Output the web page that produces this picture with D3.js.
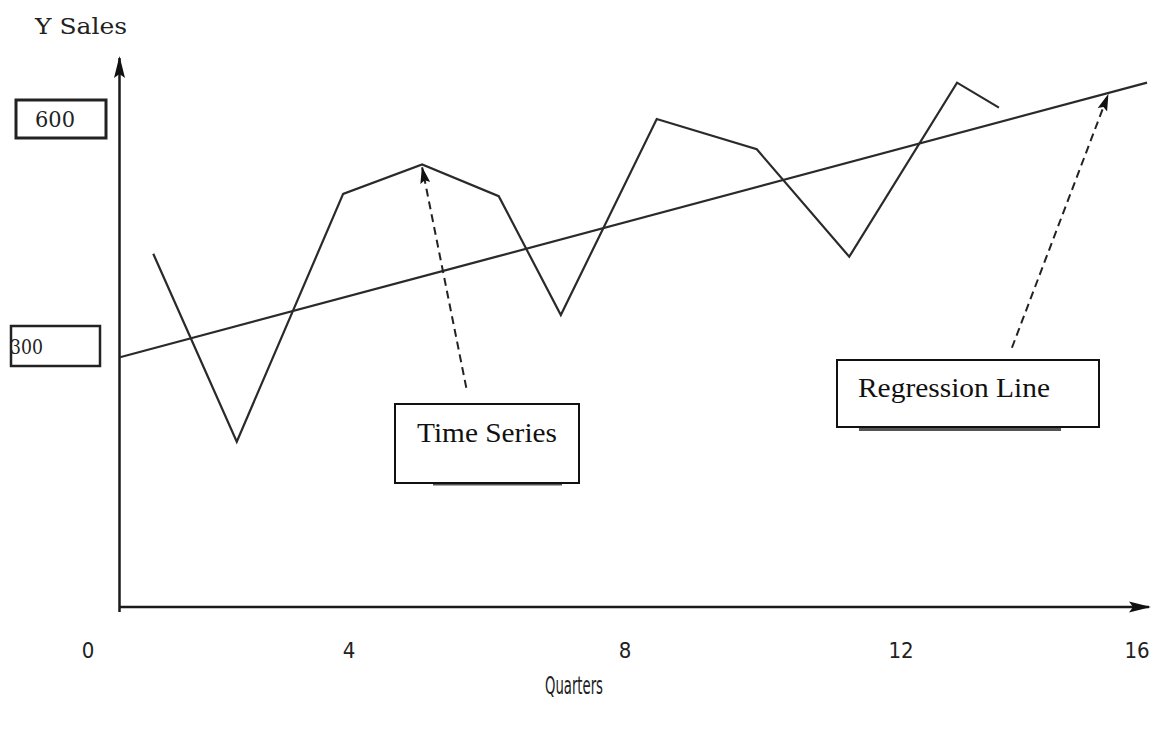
<!DOCTYPE html>
<html>
<head>
<meta charset="utf-8">
<script src="https://cdn.jsdelivr.net/npm/d3@7"></script>
<style>
  html, body { margin: 0; padding: 0; background: #fff; }
  svg { display: block; }
</style>
</head>
<body>
<svg id="chart" width="1151" height="729"></svg>
<script>
// ---- data ----
const xTicks = [0, 4, 8, 12, 16];
const yTickLabels = [600, 300];
const quarters = [1.0, 2.28, 3.91, 5.06, 6.17, 7.07, 8.46, 9.91, 11.25, 12.95, 13.66];
const sales    = [422, 190, 501, 540, 498, 341, 600, 560, 418, 648, 615];
const regressionQuarters = [0.49, 16.17];
const regressionSales    = [287, 648];
const tsArrowTail  = [5.70, 252];   // quarter, sales
const regArrowTail = [13.88, 298];
const regArrowTip  = [15.51, 632];
const xTitle = "Quarters";
const yTitle = "Y Sales";

// ---- scales (hand-drawn diagram: piecewise linear) ----
const x = d3.scaleLinear().domain([0, 4, 8, 12, 16]).range([88, 349, 625, 901, 1137]);
const y = d3.scaleLinear().domain([0, 300, 600]).range([607, 346, 119]);

const svg = d3.select("#chart");
const ink = "#2a2a2a";

// arrowhead markers
const defs = svg.append("defs");
defs.append("marker").attr("id", "ah").attr("viewBox", "0 0 22 12")
  .attr("refX", 20).attr("refY", 6).attr("markerWidth", 22).attr("markerHeight", 12)
  .attr("markerUnits", "userSpaceOnUse").attr("orient", "auto")
  .append("path").attr("d", "M0,0.5 L22,6 L0,11.5 L4,6 Z").attr("fill", "#111");
defs.append("marker").attr("id", "ahs").attr("viewBox", "0 0 17 11")
  .attr("refX", 16).attr("refY", 5.5).attr("markerWidth", 17).attr("markerHeight", 11)
  .attr("markerUnits", "userSpaceOnUse").attr("orient", "auto")
  .append("path").attr("d", "M0,0.5 L17,5.5 L0,10.5 L3,5.5 Z").attr("fill", "#111");

// ---- axes ----
const x0 = 119.5, yAxisBottom = 612, yAxisTop = 58;
const xAxisY = y(0), xAxisEnd = 1149;
svg.append("line").attr("x1", x0).attr("y1", yAxisBottom).attr("x2", x0).attr("y2", yAxisTop)
  .attr("stroke", "#1a1a1a").attr("stroke-width", 2.5).attr("marker-end", "url(#ah)");
svg.append("line").attr("x1", x0).attr("y1", xAxisY).attr("x2", xAxisEnd).attr("y2", xAxisY)
  .attr("stroke", "#1a1a1a").attr("stroke-width", 2.5).attr("marker-end", "url(#ah)");

// x tick labels
const tickFont = "'Liberation Sans Narrow', 'DejaVu Sans Condensed', 'Liberation Sans', sans-serif";
svg.append("g").selectAll("text").data(xTicks).join("text")
  .attr("x", d => x(d)).attr("y", 658)
  .attr("text-anchor", "middle")
  .attr("font-family", tickFont).attr("font-size", 22).attr("fill", "#222")
  .text(d => d);

svg.append("text").attr("x", 574).attr("y", 694).attr("text-anchor", "middle")
  .attr("font-family", tickFont).attr("font-size", 24).attr("fill", "#222")
  .attr("textLength", 58).attr("lengthAdjust", "spacingAndGlyphs")
  .text(xTitle);

// y title
svg.append("text").attr("x", 35).attr("y", 34)
  .attr("font-family", "'DejaVu Serif', serif").attr("font-size", 23).attr("fill", "#222")
  .attr("textLength", 92).attr("lengthAdjust", "spacingAndGlyphs")
  .text(yTitle);

// y value boxes
const yBoxes = [
  { v: yTickLabels[0], bx: 16, bw: 90, bh: 38, tx: 35, tl: 40, fs: 22, sw: 3 },
  { v: yTickLabels[1], bx: 11, bw: 89, bh: 40, tx: 10, tl: 33, fs: 20, sw: 2.5 }
];
yBoxes.forEach(b => {
  const cy = y(b.v);
  svg.append("rect").attr("x", b.bx).attr("y", cy - b.bh / 2).attr("width", b.bw).attr("height", b.bh)
    .attr("fill", "none").attr("stroke", "#222").attr("stroke-width", b.sw);
  svg.append("text").attr("x", b.tx).attr("y", cy + 8)
    .attr("font-family", "'DejaVu Serif', serif").attr("font-size", b.fs).attr("fill", "#222")
    .attr("textLength", b.tl).attr("lengthAdjust", "spacingAndGlyphs")
    .text(b.v);
});

// ---- regression line ----
const reg = regressionQuarters.map((q, i) => [q, regressionSales[i]]);
svg.append("path").datum(reg)
  .attr("d", d3.line().x(d => x(d[0])).y(d => y(d[1])))
  .attr("fill", "none").attr("stroke", ink).attr("stroke-width", 2.2);

// ---- time series ----
const ts = quarters.map((q, i) => [q, sales[i]]);
svg.append("path").datum(ts)
  .attr("d", d3.line().x(d => x(d[0])).y(d => y(d[1])))
  .attr("fill", "none").attr("stroke", ink).attr("stroke-width", 2.2)
  .attr("stroke-linejoin", "miter");

// ---- dashed annotation arrows ----
const peak = ts[3];
svg.append("line")
  .attr("x1", x(tsArrowTail[0])).attr("y1", y(tsArrowTail[1]))
  .attr("x2", x(peak[0])).attr("y2", y(peak[1]) + 3)
  .attr("stroke", "#222").attr("stroke-width", 2).attr("stroke-dasharray", "8,5")
  .attr("marker-end", "url(#ahs)");
svg.append("line")
  .attr("x1", x(regArrowTail[0])).attr("y1", y(regArrowTail[1]))
  .attr("x2", x(regArrowTip[0])).attr("y2", y(regArrowTip[1]))
  .attr("stroke", "#222").attr("stroke-width", 2).attr("stroke-dasharray", "8,5")
  .attr("marker-end", "url(#ahs)");

// ---- label boxes ----
const labelBoxes = [
  { t: "Time Series", bx: 395, by: 404, bw: 184, bh: 79, tx: 417, ty: 442, tl: 140, sx1: 433, sx2: 562, sy: 484.5, sw: 2 },
  { t: "Regression Line", bx: 837, by: 360, bw: 262, bh: 67, tx: 858, ty: 397, tl: 192, sx1: 859, sx2: 1061, sy: 429.5, sw: 3 }
];
labelBoxes.forEach(b => {
  svg.append("line").attr("x1", b.sx1).attr("x2", b.sx2).attr("y1", b.sy).attr("y2", b.sy)
    .attr("stroke", "#555").attr("stroke-width", b.sw);
  svg.append("rect").attr("x", b.bx).attr("y", b.by).attr("width", b.bw).attr("height", b.bh)
    .attr("fill", "#fff").attr("stroke", "#111").attr("stroke-width", 2);
  svg.append("text").attr("x", b.tx).attr("y", b.ty)
    .attr("font-family", "'Liberation Serif', 'Times New Roman', serif").attr("font-size", 28).attr("fill", "#111")
    .attr("textLength", b.tl).attr("lengthAdjust", "spacingAndGlyphs")
    .text(b.t);
});
</script>
</body>
</html>
